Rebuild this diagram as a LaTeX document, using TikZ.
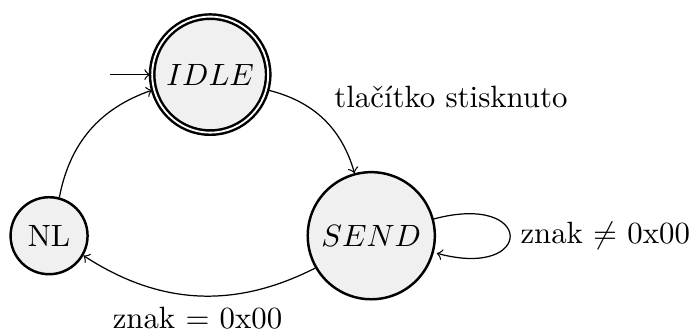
\documentclass[tikz,border=0pt]{standalone}
\usepackage{amsmath,amssymb}
\usetikzlibrary{automata,positioning}
\begin{document}
\begin{tikzpicture}[->,node distance=2.6cm,on grid,auto,
  every state/.style={thick,fill=black!6}]
\useasboundingbox (-0.56,-1.083) rectangle (7.36,2.69);
% states
\node[state] (NL) {NL};
\node[state,initial,accepting,initial text=,above right=of NL] (IDLE) {$IDLE$};
\node[state,below right=of IDLE] (SEND) {$SEND$};
% transitions
\path (IDLE) edge[bend left] node {tlačítko stisknuto} (SEND)
  (SEND) edge[loop right] node {znak $\neq$ 0x00} (SEND)
  (SEND) edge[bend left] node[below] {znak $=$ 0x00} (NL)
  (NL) edge[bend left] (IDLE);
\end{tikzpicture}
\end{document}
